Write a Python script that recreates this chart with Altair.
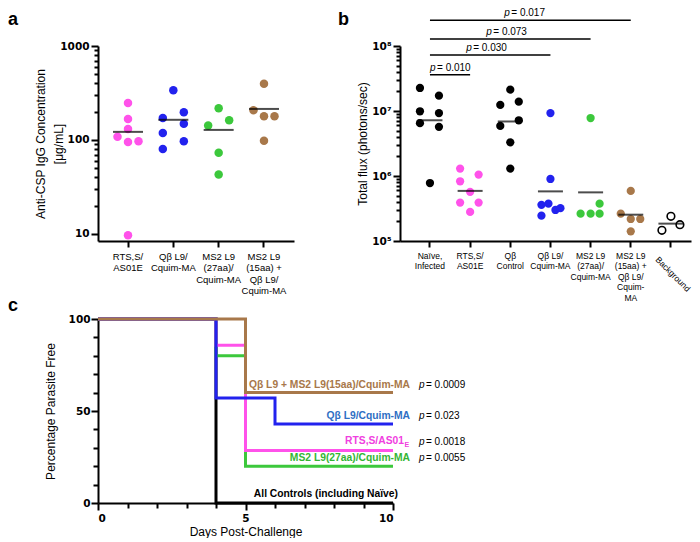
import altair as alt
import pandas as pd

# ---------------- Panel a : anti-CSP IgG concentration ----------------
A_CATS = ["RTS,S/\nAS01E", "Qβ L9/\nCquim-MA", "MS2 L9\n(27aa)/\nCquim-MA",
          "MS2 L9\n(15aa) +\nQβ L9/\nCquim-MA"]
A_RTS = [248, 167, 131, 108, 95, 97, 9.7]
A_RTS_SLOT = [0, 0, 0, -1, 0, 1, 0]
A_QB = [338, 171, 197, 149, 119, 97, 80]
A_QB_SLOT = [0, -1, 1, 1, -1, 1, -1]
A_MS27 = [217, 162, 143, 73, 43]
A_MS27_SLOT = [0, 1, -1, 0, 0]
A_COMBO = [397, 207, 179, 179, 98]
A_COMBO_SLOT = [0, -1, 0, 1, 0]
A_MEDIAN = [122, 164, 128, 214]
A_MAJOR = [10, 100, 1000]

# ---------------- Panel b : total flux ----------------
B_CATS = ["Naïve,\nInfected", "RTS,S/\nAS01E", "Qβ\nControl", "Qβ L9/\nCquim-MA",
          "MS2 L9\n(27aa)/\nCquim-MA", "MS2 L9\n(15aa) +\nQβ L9/\nCquim-\nMA", "Background"]
B_NAIVE = [2.26e7, 1.72e7, 9.9e6, 9.3e6, 6.5e6, 5.7e6, 7.8e5]
B_NAIVE_SLOT = [-1, 0.9, -1, 0.9, -1, 0.9, 0]
B_RTS = [1.30e6, 1.05e6, 8.3e5, 5.7e5, 3.9e5, 3.9e5, 2.8e5]
B_RTS_SLOT = [-1, 0.85, -1, 0, -1, 0.85, 0]
B_QBC = [2.13e7, 1.24e7, 1.39e7, 7.2e6, 5.9e6, 3.3e6, 1.30e6]
B_QBC_SLOT = [0, -1, 0.85, 0.85, -1, 0, 0]
B_QBL9 = [9.3e6, 9.0e5, 3.6e5, 3.75e5, 3.0e5, 3.2e5, 2.45e5]
B_QBL9_SLOT = [0, 0, -0.9, -0.2, 0.5, 1.0, -0.9]
B_MS27 = [7.8e6, 3.75e5, 2.63e5, 2.63e5, 2.63e5]
B_MS27_SLOT = [0, 0.9, -1, 0, 0.9]
B_COMBO = [5.9e5, 2.63e5, 2.18e5, 2.18e5, 1.41e5]
B_COMBO_SLOT = [0, -1, 0, 0.95, 0]
B_BG = [2.40e5, 1.46e5, 1.78e5]
B_BG_SLOT = [0, -0.9, 0.9]
B_MEDIAN = [7.2e6, 5.9e5, 6.9e6, 5.8e5, 5.6e5, 2.54e5, 1.85e5]
B_MAJOR = [100000, 1000000, 10000000, 100000000]
B_BR_START = [0, 0, 0, 0]
B_BR_END = [1, 3, 4, 5]
B_BR_Y = [3.6e7, 7.3e7, 1.28e8, 2.5e8]
B_BR_LABEL_X = [0.5, 1.4, 1.9, 2.35]
B_BR_P = ["= 0.010", "= 0.030", "= 0.073", "= 0.017"]

# ---------------- Panel c : survival ----------------
C_GROUPS = ["All Controls (including Naïve)", "MS2 L9(27aa)/Cquim-MA", "RTS,S/AS01E",
            "Qβ L9/Cquim-MA", "Qβ L9 + MS2 L9(15aa)/Cquim-MA"]
C_LABEL = ["All Controls (including Naïve)", "MS2 L9(27aa)/Cquim-MA", "RTS,S/AS01",
           "Qβ L9/Cquim-MA", "Qβ L9 + MS2 L9(15aa)/Cquim-MA"]
C_LABEL_SUB = ["", "", "E", "", ""]
C_DAYS = [[0, 4, 10], [0, 4, 5, 10], [0, 4, 5, 10], [0, 4, 6, 10], [0, 5, 10]]
C_PCT = [[100, 0, 0], [100, 80, 20, 20], [100, 85.7, 28.6, 28.6],
         [100, 57.1, 42.9, 42.9], [100, 60, 60]]
C_P = ["", "= 0.0055", "= 0.0018", "= 0.023", "= 0.0009"]

# ---------------- styles ----------------
FONT = "Liberation Sans"
NUMFONT = "DejaVu Sans"
PINK, BLUE, GREEN, BROWN = "#ff52ea", "#2222ee", "#3cc83c", "#a8784a"
A_COLORS = [PINK, BLUE, GREEN, BROWN]
B_COLORS = ["#000000", PINK, "#000000", BLUE, GREEN, BROWN]
C_LINE_COLORS = ["#000000", GREEN, PINK, BLUE, BROWN]
C_TEXT_COLORS = ["#000000", "#34b534", "#f040e0", "#2f6fc4", BROWN]

AX = dict(domainColor="black", domainWidth=2, tickColor="black", tickWidth=2,
          labelColor="black", titleColor="black", grid=False,
          titleFont=FONT, titleFontSize=12, titleFontWeight="normal")
NUMLAB = dict(labelFont=NUMFONT, labelFontSize=10.5, labelFontWeight="bold", labelOverlap=False)


def letter(ch, dx, dy):
    return alt.Chart(pd.DataFrame({"t": [ch]})).mark_text(
        align="left", baseline="alphabetic", font=FONT, fontSize=18, fontWeight="bold",
        color="black").encode(text="t:N", x=alt.value(dx), y=alt.value(dy))


# ================= Panel a =================
A_W, A_H = 196, 195
A_PO = 0.162
A_STEP = A_W / (len(A_CATS) + 2 * A_PO)
rows = []
for cat, vals, slots in zip(A_CATS, [A_RTS, A_QB, A_MS27, A_COMBO],
                            [A_RTS_SLOT, A_QB_SLOT, A_MS27_SLOT, A_COMBO_SLOT]):
    for v, s in zip(vals, slots):
        rows.append({"cat": cat, "val": v, "slot": s})
a_df = pd.DataFrame(rows)
a_med = pd.DataFrame({"cat": A_CATS, "val": A_MEDIAN})

a_ticks = [m * 10 ** k for k in (1, 2) for m in range(1, 10)] + [1000]
a_major_test = "indexof(%s, datum.value) >= 0" % str(A_MAJOR)
a_x = alt.X("cat:N", sort=A_CATS,
            scale=alt.Scale(domain=A_CATS, paddingInner=0, paddingOuter=A_PO),
            axis=alt.Axis(title=None, labelExpr="split(datum.label, '\\n')", labelAngle=0,
                          labelFont=FONT, labelFontSize=9.5, labelLineHeight=11.5,
                          labelPadding=4, tickSize=6, **AX))
a_y = alt.Y("val:Q", scale=alt.Scale(type="log", domain=[8.42, 1000], nice=False),
            axis=alt.Axis(title=["Anti-CSP IgG Concentration", "[μg/mL]"],
                          titleLineHeight=18, titlePadding=-6,
                          values=a_ticks,
                          labelExpr=a_major_test + " ? format(datum.value, 'd') : ''",
                          tickSize={"condition": {"test": a_major_test, "value": 7}, "value": 4},
                          labelPadding=2, **NUMLAB, **AX))
a_pts = alt.Chart(a_df).mark_circle(size=72, opacity=1).encode(
    x=a_x, y=a_y,
    xOffset=alt.XOffset("slot:Q", scale=alt.Scale(domain=[-1, 1],
                                                   range=[A_STEP / 2 - 10.5, A_STEP / 2 + 10.5])),
    color=alt.Color("cat:N", scale=alt.Scale(domain=A_CATS, range=A_COLORS), legend=None))
a_medm = alt.Chart(a_med).mark_tick(color="black", thickness=2, size=30).encode(x=a_x, y=a_y)
panel_a = alt.layer(a_pts, a_medm, letter("a", -90, -21)).properties(width=A_W, height=A_H)

# ================= Panel b =================
B_W, B_H = 291, 195
B_PO = 0.123
B_N = len(B_CATS)
B_STEP = B_W / (B_N + 2 * B_PO)
B_START = B_W - B_N * B_STEP  # align = 1
B_QLO = -B_START / B_STEP - 0.5
B_QHI = (B_W - B_START) / B_STEP - 0.5

rows = []
for cat, vals, slots in zip(B_CATS[:6], [B_NAIVE, B_RTS, B_QBC, B_QBL9, B_MS27, B_COMBO],
                            [B_NAIVE_SLOT, B_RTS_SLOT, B_QBC_SLOT, B_QBL9_SLOT, B_MS27_SLOT,
                             B_COMBO_SLOT]):
    for v, s in zip(vals, slots):
        rows.append({"cat": cat, "val": v, "slot": s})
b_df = pd.DataFrame(rows)
b_bg = pd.DataFrame({"cat": [B_CATS[6]] * len(B_BG), "val": B_BG, "slot": B_BG_SLOT})
b_med = pd.DataFrame({"cat": B_CATS, "val": B_MEDIAN})

b_ticks = [m * 10 ** k for k in (5, 6, 7) for m in range(1, 10)] + [10 ** 8]
SUP = {5: "⁵", 6: "⁶", 7: "⁷", 8: "⁸"}
b_major_test = "indexof(%s, datum.value) >= 0" % str(B_MAJOR)
b_lab = "''"
for k in (8, 7, 6, 5):
    b_lab = "datum.value == %d ? '10%s' : (%s)" % (10 ** k, SUP[k], b_lab)

b_xscale = alt.Scale(domain=B_CATS, paddingInner=0, paddingOuter=B_PO, align=1)
b_x = alt.X("cat:N", sort=B_CATS, scale=b_xscale,
            axis=alt.Axis(title=None,
                          labelExpr="datum.label == 'Background' ? '' : split(datum.label, '\\n')",
                          labelAngle=0, labelFont=FONT, labelFontSize=8.5, labelLineHeight=10.5,
                          labelPadding=4, tickSize=6, **AX))
b_yscale = alt.Scale(type="log", domain=[1e5, 1e8], nice=False)
b_y = alt.Y("val:Q", scale=b_yscale,
            axis=alt.Axis(title="Total flux (photons/sec)", titlePadding=2,
                          values=b_ticks, labelExpr=b_lab,
                          tickSize={"condition": {"test": b_major_test, "value": 7}, "value": 4},
                          labelPadding=2, **NUMLAB, **AX))
b_off = alt.XOffset("slot:Q", scale=alt.Scale(domain=[-1, 1],
                                              range=[B_STEP / 2 - 10, B_STEP / 2 + 10]))
b_pts = alt.Chart(b_df).mark_circle(size=68, opacity=1).encode(
    x=b_x, y=b_y, xOffset=b_off,
    color=alt.Color("cat:N", scale=alt.Scale(domain=B_CATS[:6], range=B_COLORS), legend=None))
b_open = alt.Chart(b_bg).mark_point(shape="circle", filled=False, size=58, color="black",
                                    strokeWidth=1.6, opacity=1, fill="white").encode(
    x=b_x, y=b_y, xOffset=b_off)
b_medm = alt.Chart(b_med).mark_tick(color="black", thickness=2, size=25).encode(x=b_x, y=b_y)
b_bglab = alt.Chart(pd.DataFrame({"cat": [B_CATS[6]]})).mark_text(
    angle=45, align="center", baseline="middle", font=FONT, fontSize=8.5, color="black",
    dx=3).encode(x=b_x, y=alt.value(B_H + 31), text="cat:N")
b_inner = alt.layer(b_pts, b_open, b_medm, b_bglab)

br_df = pd.DataFrame({"bx": B_BR_START, "bx2": B_BR_END, "val": B_BR_Y,
                      "lx": B_BR_LABEL_X, "ptxt": B_BR_P})
bq = alt.Scale(domain=[B_QLO, B_QHI], nice=False, zero=False)
br_rule = alt.Chart(br_df).mark_rule(color="black", strokeWidth=1.5).encode(
    x=alt.X("bx:Q", scale=bq, axis=None), x2="bx2:Q", y=b_y)
br_p = alt.Chart(br_df).mark_text(text="p", align="left", baseline="middle", font=FONT,
                                  fontSize=10, fontStyle="italic", color="black",
                                  dx=-20, dy=-7).encode(
    x=alt.X("lx:Q", scale=bq, axis=None), y=b_y)
br_t = alt.Chart(br_df).mark_text(align="left", baseline="middle", font=FONT, fontSize=10,
                                  color="black", dx=-13, dy=-7).encode(
    x=alt.X("lx:Q", scale=bq, axis=None), y=b_y, text="ptxt:N")
b_br = alt.layer(br_rule, br_p, br_t)
panel_b = alt.layer(b_inner, b_br, letter("b", -62, -21)).resolve_scale(
    x="independent").properties(width=B_W, height=B_H)

# ================= Panel c =================
C_W, C_H = 295, 184
rows = []
for g, ds, ps in zip(C_GROUPS, C_DAYS, C_PCT):
    for d, p in zip(ds, ps):
        rows.append({"g": g, "day": d, "pct": p})
c_df = pd.DataFrame(rows)
c_x = alt.X("day:Q", scale=alt.Scale(domain=[0, 10], nice=False),
            axis=alt.Axis(title="Days Post-Challenge", values=list(range(11)),
                          labelExpr="indexof([0,5,10], datum.value) >= 0 ? datum.label : ''",
                          tickSize={"condition": {"test": "indexof([0,5,10], datum.value) >= 0",
                                                  "value": 7}, "value": 5},
                          labelPadding=3, titlePadding=3, **NUMLAB, **AX))
c_y = alt.Y("pct:Q", scale=alt.Scale(domain=[0, 100], nice=False),
            axis=alt.Axis(title="Percentage Parasite Free", values=list(range(0, 101, 10)),
                          labelExpr="indexof([0,50,100], datum.value) >= 0 ? datum.label : ''",
                          tickSize={"condition": {"test": "indexof([0,50,100], datum.value) >= 0",
                                                  "value": 7}, "value": 5},
                          labelPadding=1, titlePadding=11, **NUMLAB, **AX))
c_layers = []
for g, col in zip(C_GROUPS, C_LINE_COLORS):
    c_layers.append(alt.Chart(c_df[c_df.g == g]).mark_line(
        interpolate="step-after", strokeWidth=3, color=col, strokeCap="butt").encode(
        x=c_x, y=c_y))

lab_df = pd.DataFrame({"g": C_GROUPS, "lab": C_LABEL, "sub": C_LABEL_SUB, "p": C_P,
                       "day": [d[-1] for d in C_DAYS], "pct": [p[-1] for p in C_PCT]})
c_col = alt.Color("g:N", scale=alt.Scale(domain=C_GROUPS, range=C_TEXT_COLORS), legend=None)
LAB = dict(baseline="middle", font=FONT, fontSize=10.3, fontWeight="bold")
plain = lab_df[(lab_df["sub"] == "") & (lab_df.index > 0)]
subbed = lab_df[lab_df["sub"] != ""]
ctrl = lab_df[lab_df.index == 0]
c_lab1 = alt.Chart(plain).mark_text(align="right", dx=17, dy=-8, **LAB).encode(
    x=c_x, y=c_y, text="lab:N", color=c_col)
c_lab2 = alt.Chart(subbed).mark_text(align="right", dx=11, dy=-9, **LAB).encode(
    x=c_x, y=c_y, text="lab:N", color=c_col)
c_lab2s = alt.Chart(subbed).mark_text(align="left", dx=11.5, dy=-5.5, baseline="middle",
                                      font=FONT, fontSize=7, fontWeight="bold").encode(
    x=c_x, y=c_y, text="sub:N", color=c_col)
c_lab3 = alt.Chart(ctrl).mark_text(align="right", dx=5, dy=-9, **LAB).encode(
    x=c_x, y=c_y, text="lab:N", color=c_col)
pv = lab_df[lab_df.p != ""]
c_p1 = alt.Chart(pv).mark_text(text="p", align="left", baseline="middle", font=FONT,
                               fontSize=10, fontStyle="italic", color="black",
                               dx=26, dy=-8).encode(x=c_x, y=c_y)
c_p2 = alt.Chart(pv).mark_text(align="left", baseline="middle", font=FONT, fontSize=10,
                               color="black", dx=33, dy=-8).encode(x=c_x, y=c_y, text="p:N")
panel_c = alt.layer(*c_layers, c_lab1, c_lab2, c_lab2s, c_lab3, c_p1, c_p2,
                    letter("c", -90, -8)).properties(width=C_W, height=C_H)

chart = alt.concat(panel_a, panel_b, panel_c, columns=2, bounds="flush",
                   spacing={"row": 78, "column": 7}).resolve_scale(
    color="independent", xOffset="independent").properties(
    padding=0, background="white").configure_view(stroke=None)

chart.save("out.html", embed_options={"renderer": "svg", "actions": False})
